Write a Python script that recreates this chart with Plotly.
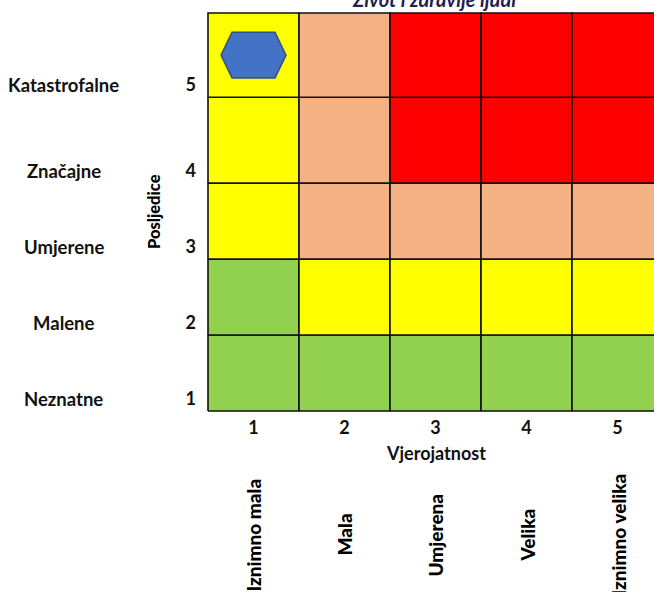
import plotly.graph_objects as go

# ---- data ----
likelihood = [1, 2, 3, 4, 5]
likelihood_names = ["Iznimno mala", "Mala", "Umjerena", "Velika", "Iznimno velika"]
consequence = [1, 2, 3, 4, 5]
consequence_names = ["Neznatne", "Malene", "Umjerene", "Značajne", "Katastrofalne"]
# row boundaries of the matrix (consequence rows, bottom to top)
row_edges = [0, 1, 2, 3, 4.13, 5.24]
# risk level per cell: rows = consequence 1..5, cols = likelihood 1..5
risk_levels = [
    ["G", "G", "G", "G", "G"],
    ["G", "Y", "Y", "Y", "Y"],
    ["Y", "S", "S", "S", "S"],
    ["Y", "S", "R", "R", "R"],
    ["Y", "S", "R", "R", "R"],
]
level_colors = {"G": "#92D050", "Y": "#FFFF00", "S": "#F4B183", "R": "#FF0000"}
# assessed risk point
point_likelihood = 1
point_consequence = 5

title_text = "Život i zdravlje ljudi"
x_title = "Vjerojatnost"
y_title = "Posljedice"

FONT = "Lato"
XR = [0.478, 5.401]
YR = [-0.0263, 5.2663]


def px(xv):
    return (xv - XR[0]) / (XR[1] - XR[0])


def py(yv):
    return (yv - YR[0]) / (YR[1] - YR[0])


fig = go.Figure()

# matrix cells
for r, cons in enumerate(consequence):
    y0, y1 = row_edges[r], row_edges[r + 1]
    for c, lik in enumerate(likelihood):
        x0, x1 = lik - 0.5, lik + 0.5
        fig.add_trace(go.Scatter(
            x=[x0, x1, x1, x0, x0], y=[y0, y0, y1, y1, y0],
            mode="lines", fill="toself",
            fillcolor=level_colors[risk_levels[r][c]],
            line=dict(color="#111111", width=1.6),
            hoverinfo="skip", showlegend=False,
        ))

# hexagon marker for the assessed risk
ri = consequence.index(point_consequence)
cx = point_likelihood
cy = (row_edges[ri] + row_edges[ri + 1]) / 2
hw, tw, hh = 0.357, 0.236, 0.30
fig.add_trace(go.Scatter(
    x=[cx - hw, cx - tw, cx + tw, cx + hw, cx + tw, cx - tw, cx - hw],
    y=[cy, cy + hh, cy + hh, cy, cy - hh, cy - hh, cy],
    mode="lines", fill="toself", fillcolor="#4472C4",
    line=dict(color="#2F528F", width=1.5),
    hoverinfo="skip", showlegend=False,
))

tick_pos = [row_edges[i] + 0.16 for i in range(5)]

annotations = []
for yv, name in zip(tick_pos, consequence_names):
    annotations.append(dict(x=-0.317, y=py(yv), xref="paper", yref="paper", text=name,
                            showarrow=False, xanchor="center", yanchor="middle",
                            font=dict(family=FONT, size=18.5, color="#111111", weight="bold")))
for xv, name in zip(likelihood, likelihood_names):
    annotations.append(dict(x=px(xv), y=-0.3035, xref="paper", yref="paper", text=name,
                            showarrow=False, textangle=-90, xanchor="center", yanchor="middle",
                            font=dict(family=FONT, size=19, color="#000000", weight=900)))
annotations.append(dict(x=px(3), y=-0.0995, xref="paper", yref="paper", text=x_title,
                        showarrow=False, xanchor="center", yanchor="middle",
                        font=dict(family=FONT, size=18, color="#111111", weight="bold")))
annotations.append(dict(x=-0.116, y=0.5, xref="paper", yref="paper", text=y_title,
                        showarrow=False, textangle=-90, xanchor="center", yanchor="middle",
                        font=dict(family=FONT, size=16.5, color="#000000", weight=900)))
annotations.append(dict(x=px(3) - 0.004, y=1.03, xref="paper", yref="paper", text=title_text,
                        showarrow=False, xanchor="center", yanchor="middle",
                        font=dict(family=FONT, size=20, color="#1F2050", weight="bold", style="italic")))

fig.update_layout(
    width=654, height=592,
    margin=dict(l=206, r=0, t=11, b=179),
    paper_bgcolor="white", plot_bgcolor="white",
    showlegend=False,
    annotations=annotations,
    xaxis=dict(range=XR, tickvals=likelihood, ticktext=[str(v) for v in likelihood],
               showgrid=False, zeroline=False, showline=False, ticks="",
               ticklabelstandoff=2,
               tickfont=dict(family=FONT, size=18, color="#111111", weight="bold"), fixedrange=True),
    yaxis=dict(range=YR, tickvals=tick_pos, ticktext=[str(v) for v in consequence],
               showgrid=False, zeroline=False, showline=False, ticks="",
               ticklabelstandoff=9,
               tickfont=dict(family=FONT, size=18, color="#111111", weight="bold"), fixedrange=True),
)

fig.write_html("out.html")
